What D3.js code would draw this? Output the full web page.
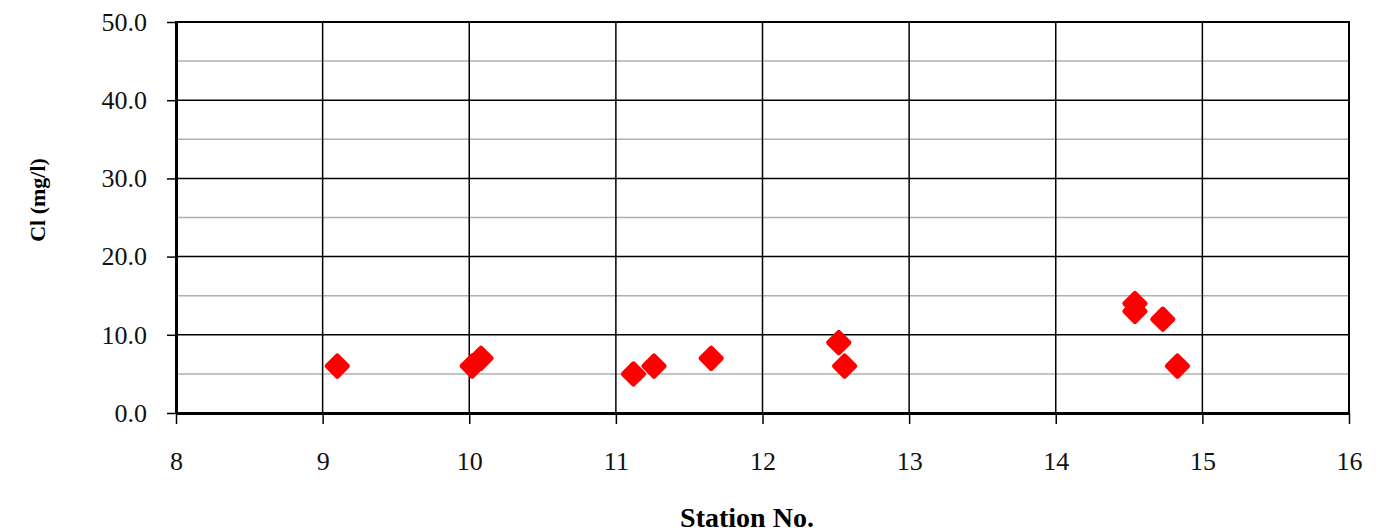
<!DOCTYPE html>
<html>
<head>
<meta charset="utf-8">
<script src="https://cdn.jsdelivr.net/npm/d3@7"></script>
<style>
  body { margin: 0; background: #fff; }
  svg { display: block; }
  text { font-family: "Liberation Serif", "DejaVu Serif", serif; }
</style>
</head>
<body>
<svg id="chart"></svg>
<script>
const svgWidth = 1399;
const svgHeight = 530;

// station number and chloride readings
const station = [9.1, 10.02, 10.08, 11.12, 11.26, 11.65, 12.52, 12.56, 14.54, 14.54, 14.73, 14.83];
const chloride = [6, 6, 7, 5, 6, 7, 9, 6, 14, 13, 12, 6];

const xTicks = [8, 9, 10, 11, 12, 13, 14, 15, 16];
const yTicks = [0, 10, 20, 30, 40, 50];
const yMinor = [5, 15, 25, 35, 45];

var margin = { top: 22, right: 50, bottom: 117, left: 176 };
var innerWidth = svgWidth - margin.left - margin.right;
var innerHeight = svgHeight - margin.top - margin.bottom;

const svg = d3.select('#chart')
  .attr('width', svgWidth)
  .attr('height', svgHeight);

var graph = svg.append('g')
  .attr('transform', 'translate(' + margin.left + ',' + margin.top + ')');

var x = d3.scaleLinear().domain([8, 16]).range([0, innerWidth]);
var y = d3.scaleLinear().domain([0, 50]).range([innerHeight, 0]);

// minor horizontal grid (grey)
graph.append('g').selectAll('line')
  .data(yMinor)
  .enter().append('line')
    .attr('x1', 0).attr('x2', innerWidth)
    .attr('y1', d => y(d)).attr('y2', d => y(d))
    .attr('stroke', '#b0b0b0').attr('stroke-width', 1.5);

// major horizontal grid
graph.append('g').selectAll('line')
  .data(yTicks)
  .enter().append('line')
    .attr('x1', 0).attr('x2', innerWidth)
    .attr('y1', d => y(d)).attr('y2', d => y(d))
    .attr('stroke', '#000').attr('stroke-width', 1.5);

// vertical grid
graph.append('g').selectAll('line')
  .data(xTicks)
  .enter().append('line')
    .attr('x1', d => x(d)).attr('x2', d => x(d))
    .attr('y1', 0).attr('y2', innerHeight)
    .attr('stroke', '#000').attr('stroke-width', 1.5);

// plot frame
graph.append('rect')
  .attr('width', innerWidth).attr('height', innerHeight)
  .attr('fill', 'none').attr('stroke', '#000').attr('stroke-width', 2);

// axes
var yAxis = graph.append('g')
  .call(d3.axisLeft(y).tickValues(yTicks).tickFormat(d3.format('.1f')).tickSize(9).tickPadding(20).tickSizeOuter(0));
var xAxis = graph.append('g')
  .attr('transform', 'translate(0,' + innerHeight + ')')
  .call(d3.axisBottom(x).tickValues(xTicks).tickFormat(d3.format('d')).tickSize(11).tickPadding(28).tickSizeOuter(0));

[yAxis, xAxis].forEach(function(a) {
  a.select('.domain').attr('stroke', '#000').attr('stroke-width', 3);
  a.selectAll('.tick line').attr('stroke', '#000').attr('stroke-width', 1.5);
  a.selectAll('.tick text')
    .attr('font-family', '"Liberation Serif", serif')
    .attr('font-size', 26)
    .attr('fill', '#111');
});

// points as red diamonds
var diamond = d3.symbol().type(d3.symbolDiamond2).size(260);
graph.append('g').selectAll('path')
  .data(station)
  .enter().append('path')
    .attr('d', diamond)
    .attr('transform', (d, i) => 'translate(' + x(d) + ',' + y(chloride[i]) + ')')
    .attr('fill', '#f00')
    .attr('stroke', '#f00')
    .attr('stroke-width', 5)
    .attr('stroke-linejoin', 'round');

// axis titles
svg.append('text')
  .attr('transform', 'translate(45,200) rotate(-90)')
  .attr('text-anchor', 'middle')
  .attr('font-weight', 'bold')
  .attr('font-size', 22)
  .text('Cl (mg/l)');

svg.append('text')
  .attr('x', 747).attr('y', 527)
  .attr('text-anchor', 'middle')
  .attr('font-weight', 'bold')
  .attr('font-size', 28)
  .text('Station No.');
</script>
</body>
</html>
